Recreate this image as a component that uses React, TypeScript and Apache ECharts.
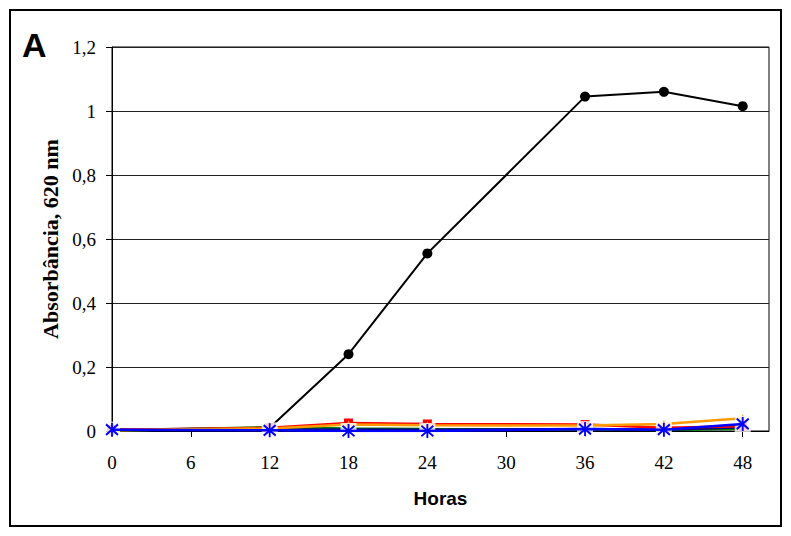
import React, { useEffect, useRef } from "react";
import * as echarts from "echarts";

// Sampling times (h)
const hours = [0, 12, 18, 24, 36, 42, 48];

// Absorbance at 620 nm for each culture
const controle = [0.005, 0.01, 0.24, 0.555, 1.045, 1.06, 1.015];
const serieVermelha = [0.003, 0.01, 0.025, 0.022, 0.02, 0.01, 0.015];
const serieLaranja = [0.002, 0.008, 0.02, 0.018, 0.017, 0.022, 0.04];
const serieVerde = [0.001, 0.012, 0.008, 0.006, 0.005, 0.003, 0.007];
const serieMarinho = [0.003, 0.004, 0.005, 0.004, 0.006, 0.004, 0.012];
const serieAzul = [0.004, 0.002, 0.0, 0.0, 0.006, 0.004, 0.022];

const xTicks = { min: 0, max: 50, interval: 6 };
const yTicks = { min: 0, max: 1.2, interval: 0.2 };

const ASTERISK = "path://M5,0L5,12M0,1.5L10,10.5M10,1.5L0,10.5";

const pairs = (ys: number[]) => hours.map((h, i) => [h, ys[i]]);

export default function App() {
  const ref = useRef<HTMLDivElement>(null);

  useEffect(() => {
    if (!ref.current) return;
    const chart = echarts.init(ref.current, null, { renderer: "svg" });
    const serif = "'Liberation Serif', 'Times New Roman', serif";
    const sans = "'Liberation Sans', Arial, sans-serif";

    chart.setOption({
      animation: false,
      backgroundColor: "#ffffff",
      graphic: [
        {
          type: "rect",
          shape: { x: 2, y: 2, width: 771, height: 516 },
          style: { fill: "none", stroke: "#000", lineWidth: 2 },
          silent: true,
        },
        {
          type: "text",
          x: 14,
          y: 37,
          style: {
            text: "A",
            font: `bold 34px ${sans}`,
            fill: "#000",
            verticalAlign: "middle",
          },
        },
      ],
      grid: {
        left: 104,
        top: 39,
        right: 14,
        bottom: 97,
        show: true,
        borderColor: "#000",
        borderWidth: 1,
      },
      xAxis: {
        type: "value",
        min: xTicks.min,
        max: xTicks.max,
        interval: xTicks.interval,
        name: "Horas",
        nameLocation: "middle",
        nameGap: 58,
        nameTextStyle: { fontFamily: sans, fontWeight: "bold", fontSize: 19, color: "#000" },
        axisLine: { lineStyle: { color: "#000", width: 1 } },
        axisTick: { inside: false, length: 6, lineStyle: { color: "#000" } },
        axisLabel: {
          showMaxLabel: false,
          margin: 22,
          fontFamily: serif,
          fontSize: 19,
          color: "#000",
        },
        splitLine: { show: false },
      },
      yAxis: {
        type: "value",
        min: yTicks.min,
        max: yTicks.max,
        interval: yTicks.interval,
        name: "Absorbância, 620 nm",
        nameLocation: "middle",
        nameGap: 50,
        nameTextStyle: { fontFamily: serif, fontWeight: "bold", fontSize: 22, color: "#000" },
        axisLine: { show: true, lineStyle: { color: "#000", width: 1 } },
        axisTick: { show: true, inside: false, length: 6, lineStyle: { color: "#000" } },
        axisLabel: {
          margin: 16,
          fontFamily: serif,
          fontSize: 19,
          color: "#000",
          formatter: (v: number) => String(Math.round(v * 10) / 10).replace(".", ","),
        },
        splitLine: { show: true, lineStyle: { color: "#222", width: 1 } },
      },
      series: [
        {
          name: "Controle",
          type: "line",
          data: pairs(controle),
          symbol: "circle",
          symbolSize: 10,
          lineStyle: { color: "#000", width: 2 },
          itemStyle: { color: "#000" },
          z: 2,
        },
        {
          name: "Verde",
          type: "line",
          data: pairs(serieVerde),
          showSymbol: false,
          lineStyle: { color: "#008000", width: 2.5 },
          itemStyle: { color: "#008000" },
          z: 3,
        },
        {
          name: "Marinho",
          type: "line",
          data: pairs(serieMarinho),
          showSymbol: false,
          lineStyle: { color: "#000080", width: 2.5 },
          itemStyle: { color: "#000080" },
          z: 3,
        },
        {
          name: "Vermelha",
          type: "line",
          data: pairs(serieVermelha),
          symbol: "rect",
          symbolSize: 9,
          lineStyle: { color: "#ff0000", width: 2.5 },
          itemStyle: { color: "#ff0000" },
          z: 4,
        },
        {
          name: "Laranja",
          type: "line",
          data: pairs(serieLaranja),
          symbol: "triangle",
          symbolSize: 8,
          lineStyle: { color: "#ff9900", width: 2.5 },
          itemStyle: { color: "#ff9900" },
          z: 5,
        },
        {
          name: "Azul-fundo",
          type: "scatter",
          data: pairs(serieAzul),
          symbol: "rect",
          symbolSize: 16,
          itemStyle: { color: "#ffffff" },
          silent: true,
          z: 6,
        },
        {
          name: "Azul",
          type: "line",
          data: pairs(serieAzul),
          symbol: ASTERISK,
          symbolSize: [12, 14],
          showAllSymbol: true,
          lineStyle: { color: "#0000ff", width: 2.5 },
          itemStyle: { color: "#0000ff", borderColor: "#0000ff", borderWidth: 2 },
          z: 7,
        },
      ],
    });

    return () => chart.dispose();
  }, []);

  return <div ref={ref} style={{ width: 775, height: 520, background: "#fff" }} />;
}
